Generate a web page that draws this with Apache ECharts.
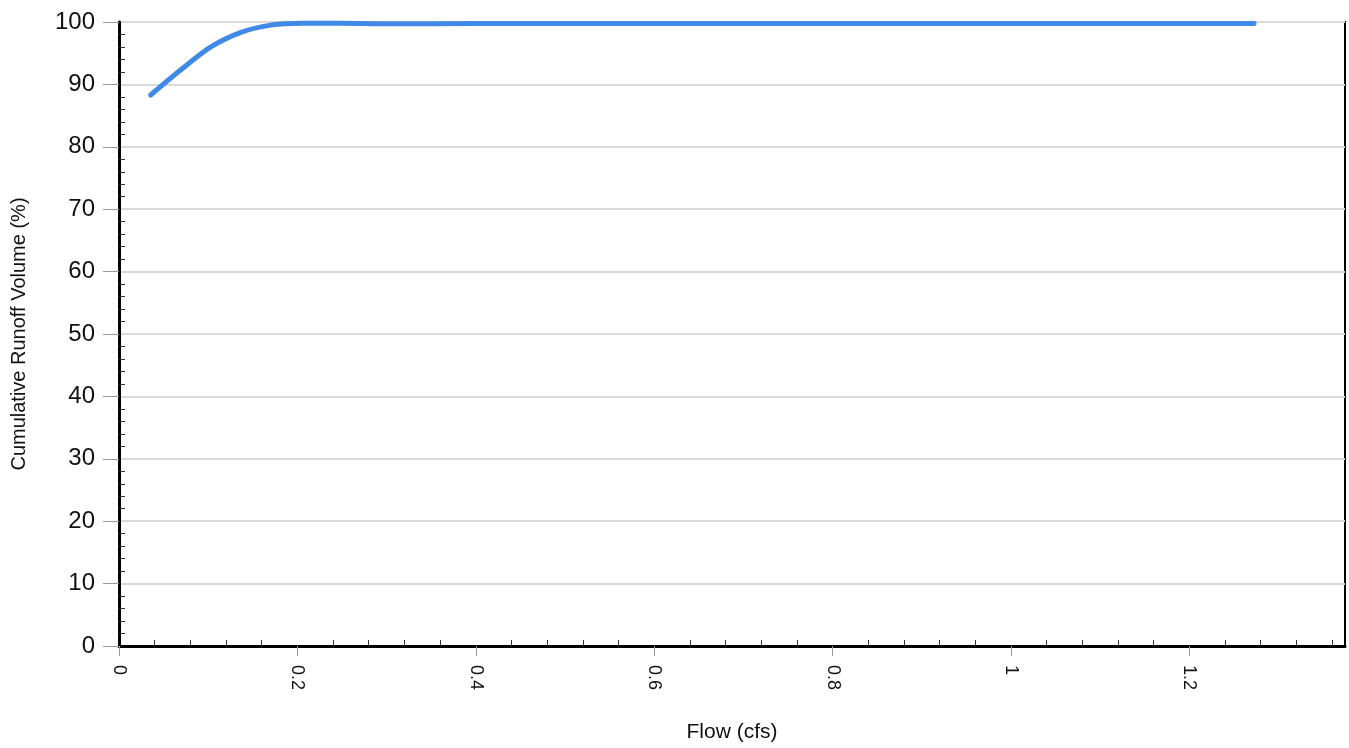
<!DOCTYPE html>
<html>
<head>
<meta charset="utf-8">
<script src="https://cdn.jsdelivr.net/npm/echarts@6/dist/echarts.min.js"></script>
<style>
  html, body { margin: 0; padding: 0; background: #fff; }
  #chart { width: 1349px; height: 748px; }
</style>
</head>
<body>
<div id="chart"></div>
<script>
// Cumulative runoff volume versus flow
const flowCfs = [0.0355, 0.069, 0.103, 0.136, 0.17, 0.205, 0.25, 0.3, 0.4, 0.6, 0.8, 1.0, 1.2, 1.2725];
const cumulativePct = [88.3, 92.3, 96.0, 98.3, 99.5, 99.8, 99.8, 99.7, 99.75, 99.75, 99.75, 99.75, 99.75, 99.75];

const xMajorTicks = [0, 0.2, 0.4, 0.6, 0.8, 1, 1.2];
const xMax = 1.3745;

// minor tick positions on the flow axis (every 0.04, skipping the labelled ones)
const xMinorTicks = [];
for (let i = 1; i * 0.04 <= xMax; i++) {
  if (i % 5 !== 0) xMinorTicks.push(+(i * 0.04).toFixed(2));
}

const chart = echarts.init(document.getElementById('chart'));
chart.setOption({
  animation: false,
  grid: {
    left: 119, right: 4, top: 22, bottom: 101,
    show: true, borderColor: '#000', borderWidth: 2, backgroundColor: 'transparent'
  },
  xAxis: [{
    type: 'value', min: 0, max: xMax, interval: 0.2,
    name: 'Flow (cfs)', nameLocation: 'middle', nameGap: 76,
    nameTextStyle: { fontFamily: 'Liberation Sans', fontSize: 21, color: '#111' },
    axisLine: { show: true, onZero: false, lineStyle: { color: '#000', width: 3 } },
    axisTick: { show: true, length: 10, customValues: xMajorTicks, lineStyle: { color: '#999', width: 1 } },
    axisLabel: {
      customValues: xMajorTicks, rotate: -90, margin: 19,
      fontFamily: 'Liberation Sans', fontSize: 18, color: '#111',
      formatter: v => String(+v.toFixed(1))
    },
    splitLine: { show: false }
  }, {
    type: 'value', min: 0, max: xMax, position: 'bottom',
    axisLine: { show: false, onZero: false },
    axisTick: { show: true, inside: true, length: 6, customValues: xMinorTicks, lineStyle: { color: '#333', width: 1 } },
    axisLabel: { show: false },
    splitLine: { show: false }
  }],
  yAxis: {
    type: 'value', min: 0, max: 100, interval: 10,
    name: 'Cumulative Runoff Volume (%)', nameLocation: 'middle', nameGap: 90,
    nameTextStyle: { fontFamily: 'Liberation Sans', fontSize: 20, color: '#111' },
    axisLine: { show: true, onZero: false, lineStyle: { color: '#000', width: 3 } },
    axisTick: { show: true, length: 16, lineStyle: { color: '#999', width: 1 } },
    minorTick: { show: true, splitNumber: 5, length: -6, lineStyle: { color: '#333', width: 1 } },
    axisLabel: { margin: 24, fontFamily: 'Liberation Sans', fontSize: 24, color: '#111' },
    splitLine: { show: true, lineStyle: { color: '#dadada', width: 2 } }
  },
  series: [{
    type: 'line',
    data: flowCfs.map((x, i) => [x, cumulativePct[i]]),
    smooth: 0.3,
    showSymbol: false,
    lineStyle: { color: '#4189e6', width: 5, cap: 'round' },
    itemStyle: { color: '#4189e6' }
  }]
});
</script>
</body>
</html>
